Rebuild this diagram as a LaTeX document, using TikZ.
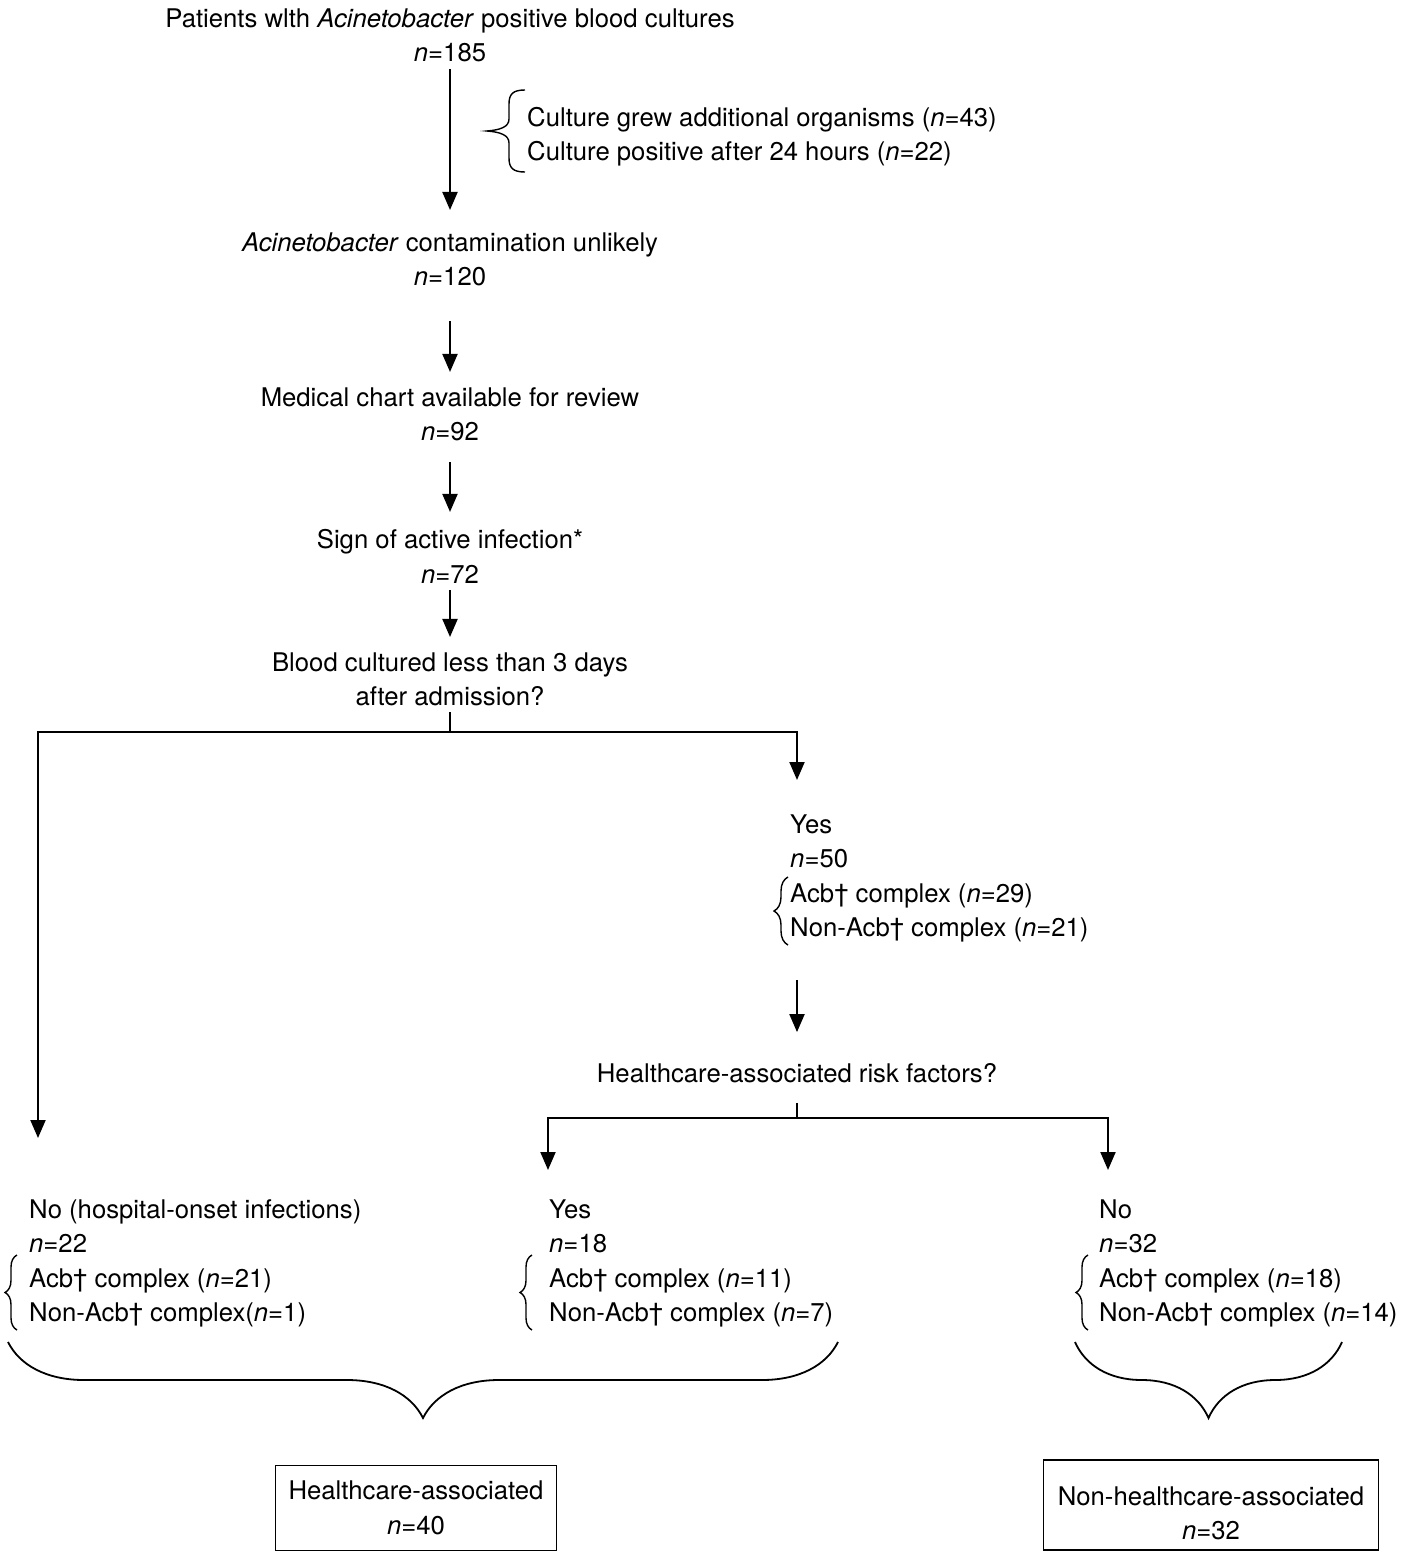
\documentclass[tikz,border=0pt]{standalone}
\usepackage{fontspec}
\setmainfont{TeX Gyre Heros}
\usetikzlibrary{arrows.meta,positioning,decorations.pathreplacing,calc}

\begin{document}
\begin{tikzpicture}[x=1pt,y=-1pt,font=\fontsize{25.7}{34.5}\selectfont,
    lbl/.style={inner sep=0pt,align=center,yshift=-2.5pt},
    lst/.style={inner sep=0pt,align=left,anchor=west,yshift=-2.5pt},
    arr/.style={-{Triangle[length=18pt,width=15pt]},line width=2pt},
    conn/.style={line width=2pt},
    sbrace/.style={decorate,decoration={brace,amplitude=#1},line width=1.4pt},
    bigbrace/.style={decorate,decoration={brace,amplitude=76pt},line width=1.8pt},
    outcome/.style={draw,line width=1.8pt,inner sep=0pt,align=center}]
  \useasboundingbox (0,0) rectangle (1400,1552);
  % main column
  \node[lbl] (start) at (450,33) {Patients wlth \textit{Acinetobacter} positive blood cultures\\\textit{n}=185};
  \node[lst] (excl) at (527,134) {Culture grew additional organisms (\textit{n}=43)\\Culture positive after 24 hours (\textit{n}=22)};
  \node[lbl] (contam) at (450,257) {\textit{Acinetobacter} contamination unlikely\\\textit{n}=120};
  \node[lbl] (chart) at (450,412) {Medical chart available for review\\\textit{n}=92};
  \node[lbl] (active) at (450,554) {Sign of active infection*\\\textit{n}=72};
  \node[lbl] (days) at (450,677) {Blood cultured less than 3 days\\after admission?};
  \draw[line width=1.4pt] (525,90) .. controls (513,90) and (509,94) .. (509,104) -- (509,119)
    .. controls (509,127) and (500,130) .. (487,131) .. controls (500,132) and (509,135) .. (509,143)
    -- (509,158) .. controls (509,168) and (513,172) .. (525,172);
  \draw[arr,shorten <=6.5pt,shorten >=22.5pt] (start) -- (contam);
  \draw[arr,shorten <=34.5pt,shorten >=15.5pt] (contam) -- (chart);
  \draw[arr,shorten <=20.5pt,shorten >=17.5pt] (chart) -- (active);
  \draw[arr,shorten <=6.5pt,shorten >=15.5pt] (active) -- (days);
  % first split
  \coordinate (split) at (450,732);
  \coordinate (noend) at (38,1138);
  \coordinate (yesend) at (797,780);
  \draw[conn,shorten <=5.5pt] (days.south) -- (split);
  \draw[arr] (split) -| (noend);
  \draw[arr] (split) -| (yesend);
  \node[lst] (yes1) at (790,876) {Yes\\\textit{n}=50\\Acb† complex (\textit{n}=29)\\Non-Acb† complex (\textit{n}=21)};
  \draw[sbrace=14pt] (788,945) -- (788,877);
  \node[lbl] (risk) at (797,1071) {Healthcare-associated risk factors?};
  \draw[arr,shorten <=37.5pt,shorten >=31.5pt] (yes1.south -| risk.north) -- (risk.north);
  % second split
  \coordinate (split2) at (797,1118);
  \coordinate (hcend) at (548,1170);
  \coordinate (nhcend) at (1108,1170);
  \draw[conn,shorten <=19.5pt] (risk.south) -- (split2);
  \draw[arr] (split2) -| (hcend);
  \draw[arr] (split2) -| (nhcend);
  % groups
  \node[lst] (no2) at (29,1261) {No (hospital-onset infections)\\\textit{n}=22\\Acb† complex (\textit{n}=21)\\Non-Acb† complex(\textit{n}=1)};
  \node[lst] (yes2) at (549,1261) {Yes\\\textit{n}=18\\Acb† complex (\textit{n}=11)\\Non-Acb† complex (\textit{n}=7)};
  \node[lst] (no3) at (1099,1261) {No\\\textit{n}=32\\Acb† complex (\textit{n}=18)\\Non-Acb† complex (\textit{n}=14)};
  \foreach \bx in {17,532,1088} \draw[sbrace=12pt] (\bx,1330) -- (\bx,1255);
  \draw[bigbrace] (838,1342) -- (8,1342);
  \draw[bigbrace] (1342,1342) -- (1075,1342);
  % outcomes
  \node[outcome,minimum width=281pt,minimum height=85pt] (hca) at (416,1508) {Healthcare-associated\\\textit{n}=40};
  \node[outcome,minimum width=335pt,minimum height=90pt] (nhca) at (1211,1505) {\rule{0pt}{35pt}Non-healthcare-associated\\\textit{n}=32};
\end{tikzpicture}
\end{document}
